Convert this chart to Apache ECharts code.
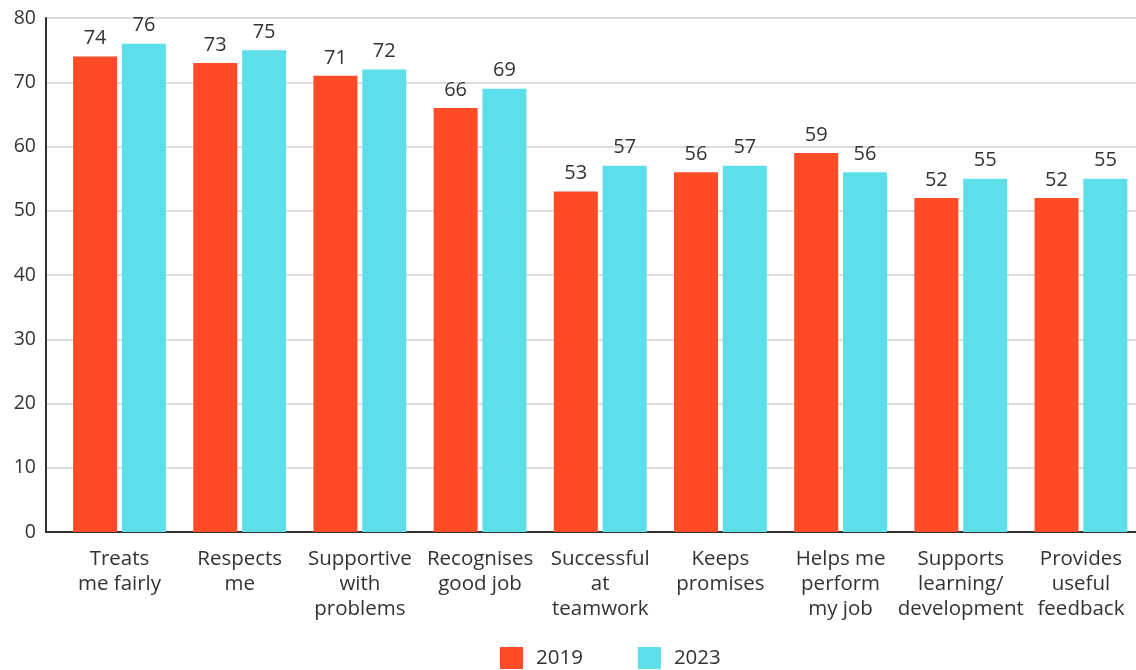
<!DOCTYPE html>
<html>
<head>
<meta charset="utf-8">
<script src="https://cdn.jsdelivr.net/npm/echarts@6/dist/echarts.min.js"></script>
<style>
  html, body { margin: 0; padding: 0; background: #fff; }
  #chart { width: 1136px; height: 670px; }
</style>
</head>
<body>
<div id="chart"></div>
<script>
const categories = [
  'Treats\nme fairly',
  'Respects\nme',
  'Supportive\nwith\nproblems',
  'Recognises\ngood job',
  'Successful\nat\nteamwork',
  'Keeps\npromises',
  'Helps me\nperform\nmy job',
  'Supports\nlearning/\ndevelopment',
  'Provides\nuseful\nfeedback'
];
const values2019 = [74, 73, 71, 66, 53, 56, 59, 52, 52];
const values2023 = [76, 75, 72, 69, 57, 57, 56, 55, 55];
const seriesNames = ['2019', '2023'];
const colors = ['#FF4C26', '#5CDFE8'];

const fontFamily = '"Open Sans", "Noto Sans", Lato, sans-serif';
const textColor = '#333333';

// category slots sit at integer positions on the x axis
const slotIndex = categories.map((_, i) => i);
const toPoints = (vals) => vals.map((v, i) => [i, v]);

const chart = echarts.init(document.getElementById('chart'));

const labelStyle = {
  show: true, position: 'top', distance: 8,
  fontSize: 20, color: textColor, fontFamily: fontFamily
};

const option = {
  animation: false,
  backgroundColor: '#ffffff',
  textStyle: { fontFamily: fontFamily, color: textColor },
  legend: {
    data: seriesNames,
    bottom: 1,
    left: 500,
    padding: 0,
    itemWidth: 23,
    itemHeight: 22,
    itemGap: 55,
    icon: 'rect',
    textStyle: { fontSize: 20.5, color: textColor, fontFamily: fontFamily, padding: [0, 0, 0, 8] }
  },
  grid: { left: 46, right: 0, top: 18, bottom: 138, containLabel: false },
  xAxis: {
    type: 'value',
    min: -0.6115,
    max: 8.458,
    axisLine: { show: true, lineStyle: { color: '#333', width: 2 } },
    axisTick: { show: false },
    splitLine: { show: false },
    axisLabel: {
      customValues: slotIndex,
      formatter: (v) => categories[Math.round(v)] || '',
      fontSize: 20.5,
      lineHeight: 25,
      margin: 15,
      color: textColor,
      fontFamily: fontFamily
    }
  },
  yAxis: {
    type: 'value',
    min: 0,
    max: 80,
    interval: 10,
    axisLine: { show: true, onZero: false, lineStyle: { color: '#333', width: 2 } },
    axisTick: { show: false },
    axisLabel: { fontSize: 19.5, color: textColor, margin: 10, fontFamily: fontFamily },
    splitLine: { show: true, lineStyle: { color: '#dddddd', width: 2 } }
  },
  series: [
    {
      name: seriesNames[0],
      type: 'bar',
      data: toPoints(values2019),
      barWidth: 44,
      barGap: '11%',
      itemStyle: { color: colors[0] },
      label: labelStyle
    },
    {
      name: seriesNames[1],
      type: 'bar',
      data: toPoints(values2023),
      barWidth: 44,
      barGap: '11%',
      itemStyle: { color: colors[1] },
      label: labelStyle
    }
  ]
};

chart.setOption(option);
</script>
</body>
</html>
